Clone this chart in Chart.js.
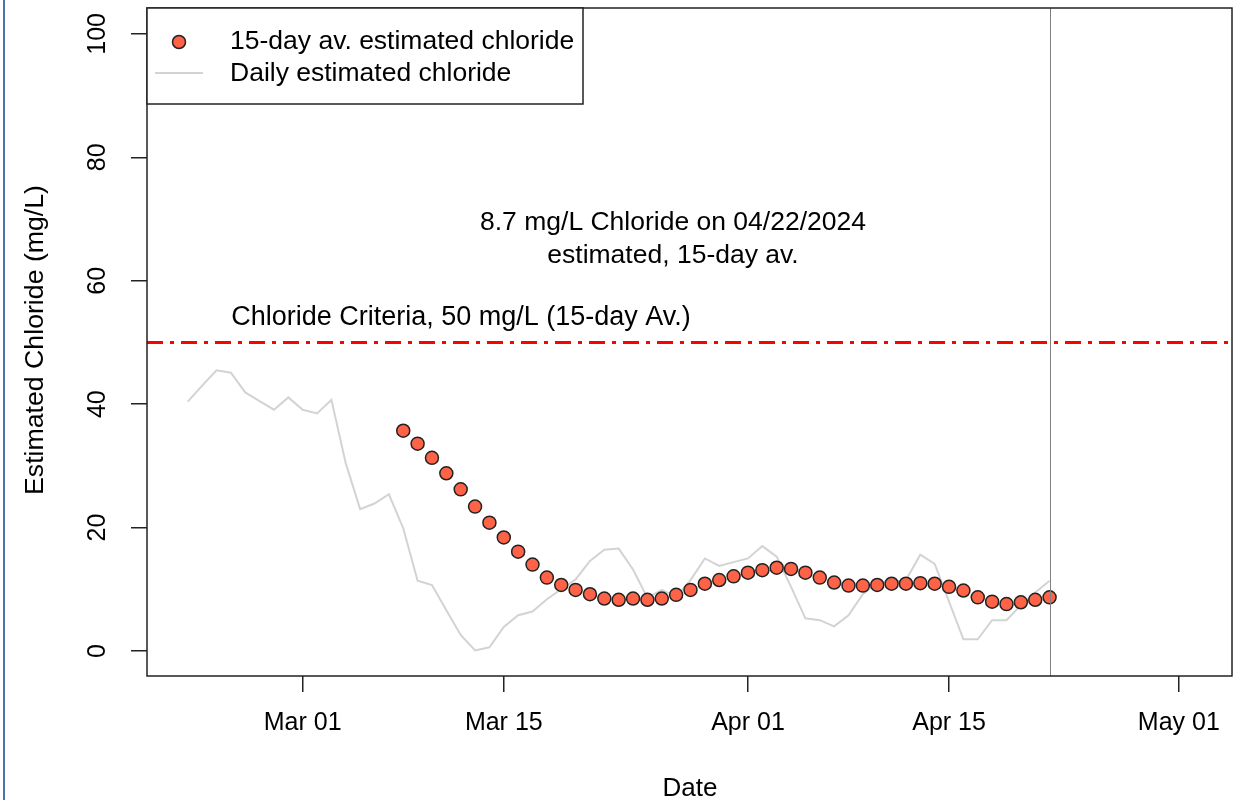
<!DOCTYPE html>
<html>
<head>
<meta charset="utf-8">
<script src="https://cdn.jsdelivr.net/npm/chart.js@4.4.1/dist/chart.umd.min.js"></script>
<style>
  html, body { margin: 0; padding: 0; background: #fff; }
  #wrap { width: 1242px; height: 800px; position: relative; }
  canvas { display: block; }
</style>
</head>
<body>
<div id="wrap"><canvas id="c" width="1242" height="800"></canvas></div>
<script>
// ---------------- DATA ----------------
const dailyDates = [
  "2024-02-22","2024-02-23","2024-02-24","2024-02-25","2024-02-26","2024-02-27","2024-02-28","2024-02-29",
  "2024-03-01","2024-03-02","2024-03-03","2024-03-04","2024-03-05","2024-03-06","2024-03-07","2024-03-08",
  "2024-03-09","2024-03-10","2024-03-11","2024-03-12","2024-03-13","2024-03-14","2024-03-15","2024-03-16",
  "2024-03-17","2024-03-18","2024-03-19","2024-03-20","2024-03-21","2024-03-22","2024-03-23","2024-03-24",
  "2024-03-25","2024-03-26","2024-03-27","2024-03-28","2024-03-29","2024-03-30","2024-03-31",
  "2024-04-01","2024-04-02","2024-04-03","2024-04-04","2024-04-05","2024-04-06","2024-04-07","2024-04-08",
  "2024-04-09","2024-04-10","2024-04-11","2024-04-12","2024-04-13","2024-04-14","2024-04-15","2024-04-16",
  "2024-04-17","2024-04-18","2024-04-19","2024-04-20","2024-04-21","2024-04-22"
];
const dailyChloride = [
  40.4, 43.0, 45.5, 45.1, 41.9, 40.5, 39.1, 41.1,
  39.1, 38.5, 40.7, 30.4, 23.0, 23.9, 25.4, 19.9,
  11.4, 10.7, 6.6, 2.6, 0.1, 0.6, 3.9, 5.8,
  6.4, 8.4, 10.0, 11.6, 14.6, 16.4, 16.6, 13.2,
  8.6, 9.9, 8.8, 11.5, 15.0, 13.8, 14.4,
  15.0, 17.0, 15.3, 10.4, 5.3, 5.0, 4.0, 5.8,
  9.2, 11.0, 11.2, 11.5, 15.6, 14.1, 8.0, 1.9,
  1.9, 5.0, 5.0, 7.4, 9.5, 11.4
];
const avgDates = [
  "2024-03-08","2024-03-09","2024-03-10","2024-03-11","2024-03-12","2024-03-13","2024-03-14","2024-03-15",
  "2024-03-16","2024-03-17","2024-03-18","2024-03-19","2024-03-20","2024-03-21","2024-03-22","2024-03-23",
  "2024-03-24","2024-03-25","2024-03-26","2024-03-27","2024-03-28","2024-03-29","2024-03-30","2024-03-31",
  "2024-04-01","2024-04-02","2024-04-03","2024-04-04","2024-04-05","2024-04-06","2024-04-07","2024-04-08",
  "2024-04-09","2024-04-10","2024-04-11","2024-04-12","2024-04-13","2024-04-14","2024-04-15","2024-04-16",
  "2024-04-17","2024-04-18","2024-04-19","2024-04-20","2024-04-21","2024-04-22"
];
const avgChloride = [
  35.7, 33.6, 31.3, 28.8, 26.2, 23.4, 20.8, 18.4,
  16.1, 14.0, 11.9, 10.7, 9.9, 9.2, 8.5, 8.3,
  8.5, 8.3, 8.5, 9.1, 9.9, 10.9, 11.5, 12.1,
  12.7, 13.1, 13.5, 13.3, 12.7, 11.9, 11.1, 10.6,
  10.6, 10.7, 10.9, 10.9, 11.0, 10.9, 10.4, 9.8,
  8.7, 8.0, 7.6, 7.9, 8.3, 8.7
];
const xTickDates = ["2024-03-01","2024-03-15","2024-04-01","2024-04-15","2024-05-01"];
const xTickLabels = ["Mar 01","Mar 15","Apr 01","Apr 15","May 01"];
const yTickValues = [0, 20, 40, 60, 80, 100];
const yTickLabels = ["0","20","40","60","80","100"];
const criteriaValue = 50;
const criteriaLabel = "Chloride Criteria, 50 mg/L (15-day Av.)";
const latestDate = "2024-04-22";
const latestText = ["8.7 mg/L Chloride on 04/22/2024", "estimated, 15-day av."];
const legendLabels = ["15-day av. estimated chloride", "Daily estimated chloride"];
const xTitle = "Date";
const yTitle = "Estimated Chloride (mg/L)";

// ---------------- HELPERS ----------------
const ORIGIN = Date.UTC(2024, 2, 1);
function dayNum(s) {
  const p = s.split("-").map(Number);
  return (Date.UTC(p[0], p[1] - 1, p[2]) - ORIGIN) / 86400000;
}
const dailyPts = dailyDates.map((d, i) => ({ x: dayNum(d), y: dailyChloride[i] }));
const avgPts = avgDates.map((d, i) => ({ x: dayNum(d), y: avgChloride[i] }));
const xTickVals = xTickDates.map(dayNum);

const FONT = "'Liberation Sans', Arial, sans-serif";
const FS_TICK = 25;
const FS_TEXT = 26.5;
const POINT_FILL = "#FF6347";
const DAILY_COLOR = "#d3d3d3";
const AXIS_COLOR = "#222";

const decorPlugin = {
  id: "decor",
  beforeDraw(chart) {
    const ctx = chart.ctx;
    ctx.save();
    ctx.fillStyle = "#fff";
    ctx.fillRect(0, 0, chart.width, chart.height);
    ctx.strokeStyle = "#4f73a8";
    ctx.lineWidth = 2;
    ctx.beginPath(); ctx.moveTo(4, 0); ctx.lineTo(4, chart.height); ctx.stroke();
    ctx.restore();
  },
  afterDatasetsDraw(chart) {
    const ctx = chart.ctx;
    const a = chart.chartArea;
    const xs = chart.scales.x, ys = chart.scales.y;
    ctx.save();
    ctx.beginPath(); ctx.rect(a.left, a.top, a.right - a.left, a.bottom - a.top); ctx.clip();
    const yc = ys.getPixelForValue(criteriaValue);
    ctx.strokeStyle = "#ff0000";
    ctx.lineWidth = 3;
    ctx.setLineDash([16, 7, 4, 7]);
    ctx.beginPath(); ctx.moveTo(a.left, yc); ctx.lineTo(a.right, yc); ctx.stroke();
    ctx.setLineDash([]);
    const xl = Math.round(xs.getPixelForValue(dayNum(latestDate))) + 0.5;
    ctx.strokeStyle = "#808080";
    ctx.lineWidth = 1;
    ctx.beginPath(); ctx.moveTo(xl, a.top); ctx.lineTo(xl, a.bottom); ctx.stroke();
    ctx.restore();

    ctx.save();
    ctx.fillStyle = "#000";
    ctx.textBaseline = "middle";
    ctx.textAlign = "center";
    ctx.font = FS_TEXT + "px " + FONT;
    ctx.fillText(latestText[0], 673, 223);
    ctx.fillText(latestText[1], 673, 256);
    ctx.font = "27px " + FONT;
    ctx.fillText(criteriaLabel, 461, 318);
    ctx.font = FS_TEXT + "px " + FONT;
    ctx.strokeStyle = AXIS_COLOR;
    ctx.lineWidth = 1.5;
    ctx.strokeRect(a.left, a.top, a.right - a.left, a.bottom - a.top);
    // legend
    const lx0 = a.left, ly0 = a.top, lx1 = 583, ly1 = 104;
    ctx.fillStyle = "#fff";
    ctx.fillRect(lx0, ly0, lx1 - lx0, ly1 - ly0);
    ctx.strokeRect(lx0, ly0, lx1 - lx0, ly1 - ly0);
    ctx.beginPath(); ctx.arc(179, 42, 6.5, 0, Math.PI * 2);
    ctx.fillStyle = POINT_FILL; ctx.fill();
    ctx.lineWidth = 1.5; ctx.strokeStyle = "#222"; ctx.stroke();
    ctx.strokeStyle = DAILY_COLOR; ctx.lineWidth = 2;
    ctx.beginPath(); ctx.moveTo(155, 73); ctx.lineTo(203, 73); ctx.stroke();
    ctx.fillStyle = "#000";
    ctx.textAlign = "left";
    ctx.fillText(legendLabels[0], 230, 42);
    ctx.fillText(legendLabels[1], 230, 74);
    // axis titles
    ctx.textAlign = "center";
    ctx.font = "26px " + FONT;
    ctx.fillText(xTitle, 690, 789);
    ctx.save();
    ctx.translate(36, 340);
    ctx.rotate(-Math.PI / 2);
    ctx.font = "26.7px " + FONT;
    ctx.fillText(yTitle, 0, 0);
    ctx.restore();
    ctx.restore();
  }
};

new Chart(document.getElementById("c"), {
  data: {
    datasets: [
      {
        type: "scatter",
        label: legendLabels[0],
        data: avgPts,
        showLine: false,
        pointRadius: 6.5,
        pointBackgroundColor: POINT_FILL,
        pointBorderColor: "#222",
        pointBorderWidth: 1.5,
        pointHoverRadius: 6.5
      },
      {
        type: "line",
        label: legendLabels[1],
        data: dailyPts,
        borderColor: DAILY_COLOR,
        borderWidth: 2,
        pointRadius: 0,
        tension: 0,
        fill: false
      }
    ]
  },
  options: {
    responsive: false,
    devicePixelRatio: 1,
    animation: false,
    events: [],
    layout: { padding: { left: 0, right: 10, top: 8, bottom: 0 } },
    plugins: { legend: { display: false }, tooltip: { enabled: false }, title: { display: false } },
    scales: {
      x: {
        type: "linear",
        min: -10.84,
        max: 64.7,
        afterBuildTicks: (s) => { s.ticks = xTickVals.map(v => ({ value: v })); },
        afterFit: (s) => { s.height = 124; s.paddingLeft = 0; s.paddingRight = 0; },
        ticks: {
          autoSkip: false,
          maxRotation: 0,
          minRotation: 0,
          padding: 16,
          color: "#000",
          font: { family: FONT, size: FS_TICK },
          callback: (v, i) => xTickLabels[i]
        },
        grid: { drawOnChartArea: false, drawTicks: true, tickLength: 16, color: AXIS_COLOR, lineWidth: 1.5 },
        border: { display: false }
      },
      y: {
        type: "linear",
        min: -4.05,
        max: 104.2,
        afterBuildTicks: (s) => { s.ticks = yTickValues.map(v => ({ value: v })); },
        afterFit: (s) => { s.width = 147; s.paddingTop = 0; s.paddingBottom = 0; },
        ticks: {
          autoSkip: false,
          minRotation: 90,
          maxRotation: 90,
          crossAlign: "center",
          padding: 12,
          color: "#000",
          font: { family: FONT, size: FS_TICK },
          callback: (v, i) => yTickLabels[i]
        },
        grid: { drawOnChartArea: false, drawTicks: true, tickLength: 16, color: AXIS_COLOR, lineWidth: 1.5 },
        border: { display: false }
      }
    }
  },
  plugins: [decorPlugin]
});
</script>
</body>
</html>
